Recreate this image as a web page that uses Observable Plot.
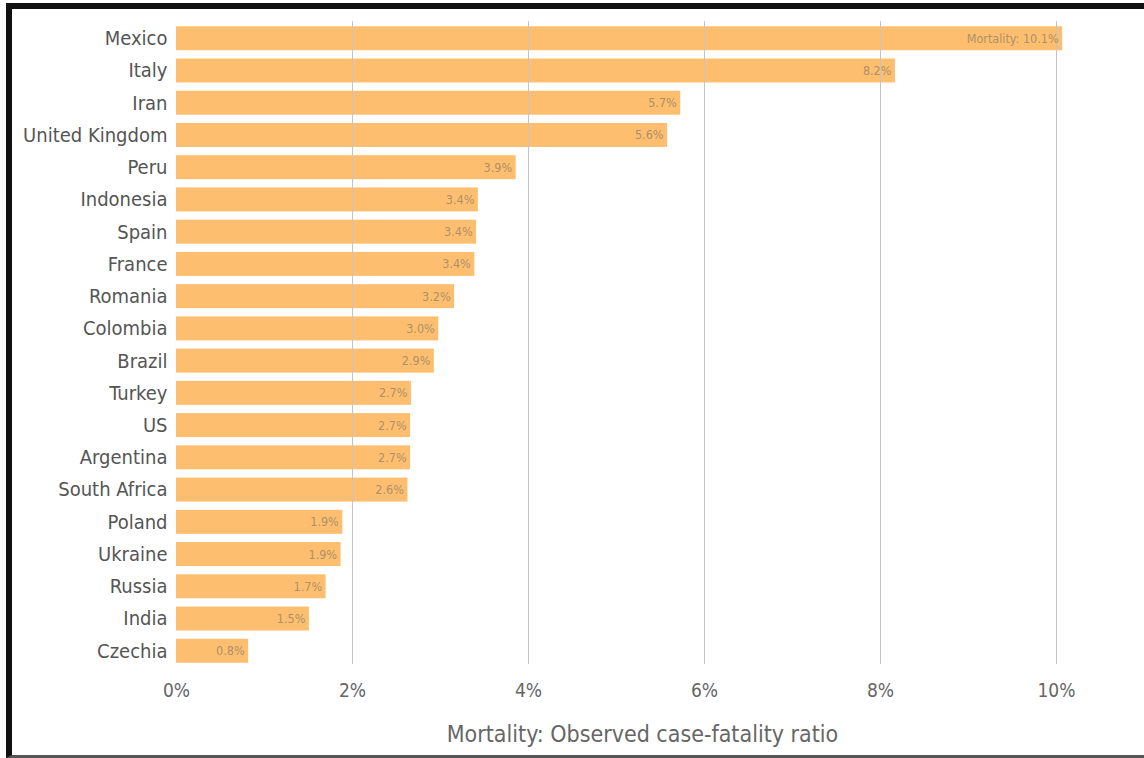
<!DOCTYPE html>
<html><head><meta charset="utf-8">
<script src="https://cdn.jsdelivr.net/npm/d3@7"></script>
<script src="https://cdn.jsdelivr.net/npm/@observablehq/plot@0.6"></script>
<style>
body{margin:0;background:#fff;}
#wrap{position:relative;width:1144px;height:758px;overflow:hidden;background:#fff;}
#border{position:absolute;left:6px;top:3px;width:1160px;height:746px;border-left:6px solid #111;border-top:6px solid #111;border-bottom:3px solid #555;}
#chart{position:absolute;left:0;top:0;}
#chart svg{font-family:"DejaVu Sans Condensed","DejaVu Sans",sans-serif;font-stretch:condensed;}
</style></head><body>
<div id="wrap"><div id="border"></div><div id="chart"></div></div>
<script>
const countries = ["Mexico","Italy","Iran","United Kingdom","Peru","Indonesia","Spain","France","Romania","Colombia","Brazil","Turkey","US","Argentina","South Africa","Poland","Ukraine","Russia","India","Czechia"];
const mortality = [10.07,8.17,5.73,5.58,3.86,3.43,3.41,3.39,3.16,2.98,2.93,2.67,2.66,2.66,2.63,1.89,1.87,1.70,1.51,0.82];
const valueLabels = ["Mortality: 10.1%","8.2%","5.7%","5.6%","3.9%","3.4%","3.4%","3.4%","3.2%","3.0%","2.9%","2.7%","2.7%","2.7%","2.6%","1.9%","1.9%","1.7%","1.5%","0.8%"];
const xTicks = [0,2,4,6,8,10];
const xTitle = "Mortality: Observed case-fatality ratio";

const data = countries.map((c,i)=>({country:c, value:mortality[i], label:valueLabels[i]}));

const chart = Plot.plot({
  width:1144, height:758,
  marginLeft:176, marginRight:88, marginTop:18, marginBottom:87,
  style:{background:"transparent", color:"#666"},
  x:{domain:[0,10], ticks:xTicks, label:null},
  y:{domain:countries, padding:0.256, round:false, label:null},
  marks:[
    Plot.barX(data,{x:"value", y:"country", fill:"#fdbf6f"}),
    Plot.ruleX(xTicks.slice(1),{x:d=>d, stroke:"#c4c4c4", insetTop:3, insetBottom:7}),
    Plot.text(data,{x:"value", y:"country", text:"label", textAnchor:"end", dx:-4, fill:"#ae9068", fontSize:12.5}),
    Plot.axisY({tickSize:0, tickPadding:9, fontSize:20, fill:"#555", label:null}),
    Plot.axisX(xTicks,{tickSize:0, tickPadding:12, fontSize:19, fill:"#666", tickFormat:d=>d+"%", label:null}),
    Plot.text([xTitle],{text:d=>d, frameAnchor:"bottom", dy:70, dx:26, fontSize:23, fill:"#666"})
  ]
});
document.getElementById("chart").appendChild(chart);
</script>
</body></html>
